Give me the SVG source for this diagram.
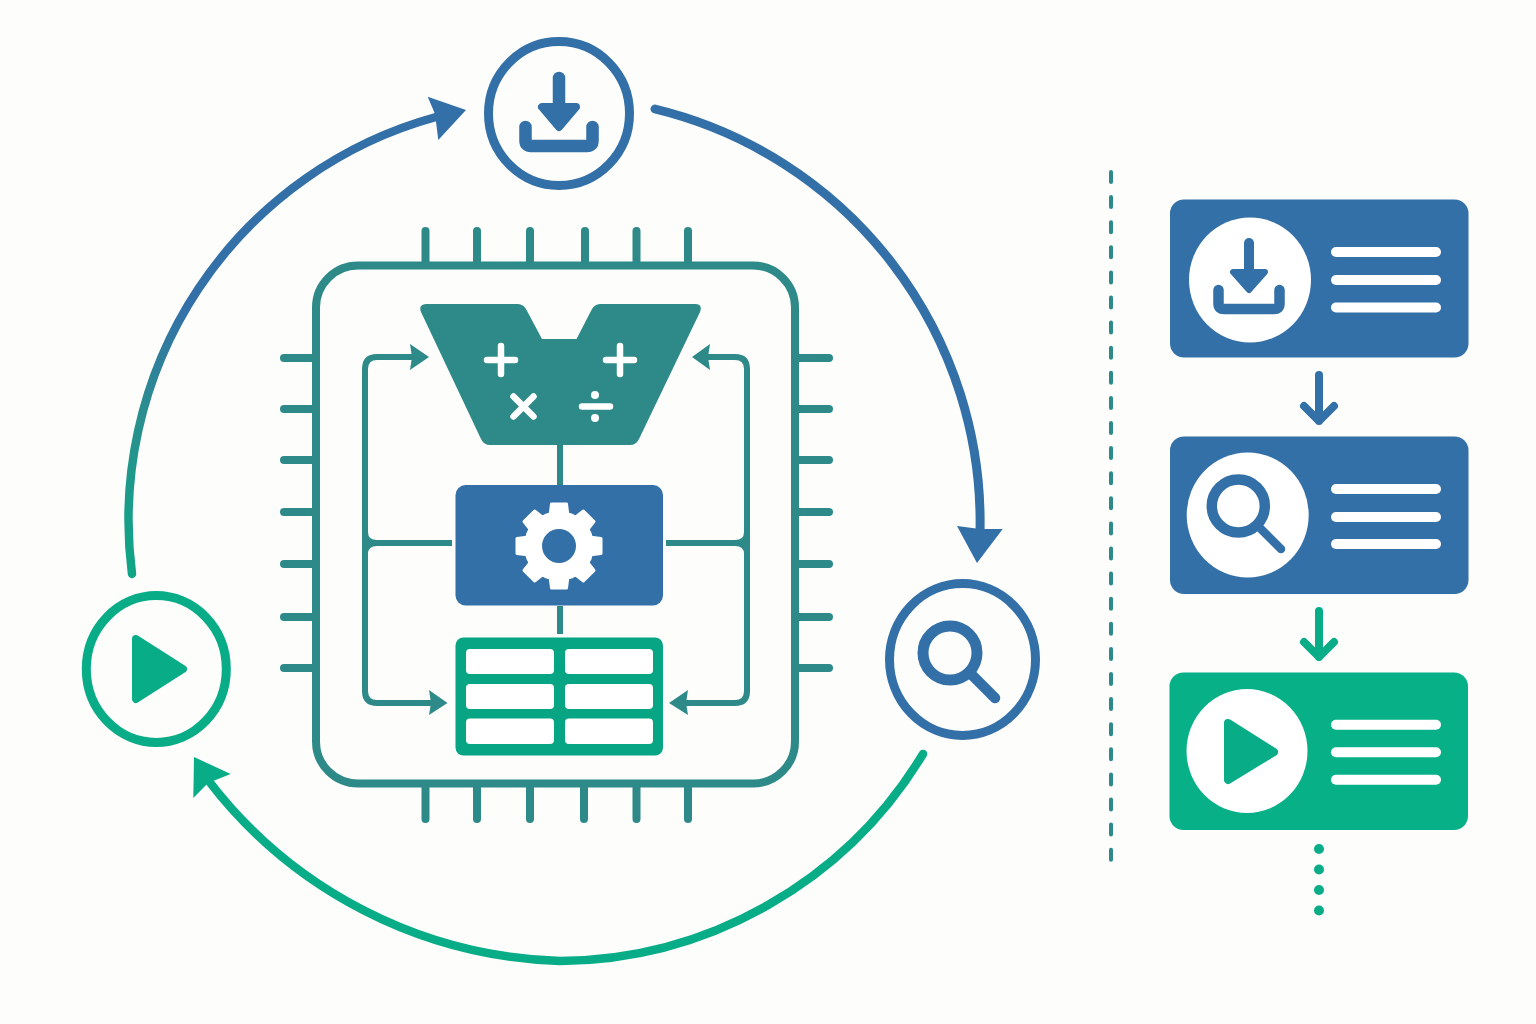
<svg xmlns="http://www.w3.org/2000/svg" width="1536" height="1024" viewBox="0 0 1536 1024">
<style>
.b{stroke:#3470a8}.t{stroke:#2d8a88}.g{stroke:#08ad87}.w{stroke:#fff}
.ln{fill:none;stroke-linecap:round;stroke-linejoin:round}
.fb{fill:#3470a8}.ft{fill:#2d8a88}.fg{fill:#08ad87}.fw{fill:#fff}
.ring{fill:none;stroke-width:9}
.pin{fill:none;stroke:#2d8a88;stroke-width:8;stroke-linecap:round}
.bus{fill:none;stroke:#2d8a88;stroke-width:6}
.row{fill:#fff}
</style>
<defs>
<linearGradient id="arcL" gradientUnits="userSpaceOnUse" x1="132" y1="574" x2="300" y2="180">
<stop offset="0" stop-color="#0fa586"/><stop offset="0.35" stop-color="#2a8f8e"/><stop offset="0.62" stop-color="#3470a8"/><stop offset="1" stop-color="#3470a8"/>
</linearGradient>
<polygon id="tooth" points="-9,-30 -7.5,-42 7.5,-42 9,-30" fill="#fff" stroke="#fff" stroke-width="3" stroke-linejoin="round"/>
</defs>
<rect width="1536" height="1024" fill="#fdfdfb"/>

<g id="connectors">
<path class="ln" stroke="url(#arcL)" stroke-width="8.500" d="M132 574 A418 418 0 0 1 436 117"/>
<polygon class="fb" points="466,110 427.7,96.7 435,114 438.3,140"/>
<path class="ln b" stroke-width="9" d="M655 109 A425 425 0 0 1 980 532"/>
<polygon class="fb" points="957,526 980,529 1002.7,529 977,563"/>
<path class="ln g" stroke-width="8.500" d="M923 754 A428 428 0 0 1 560 961 A460 460 0 0 1 208 780"/>
<polygon class="fg" points="194,757 230.7,774 208,783 193.3,798"/>

<path class="bus" d="M560 445V485M560 606V634"/>
<path class="bus" d="M412 357H377Q365 357 365 369V691Q365 703 377 703H432"/>
<path class="bus" d="M365 532Q365 543 377 543H452M365 554Q365 543 377 543"/>
<path class="bus" d="M708 357H735Q747 357 747 369V691Q747 703 735 703H686"/>
<path class="bus" d="M747 532Q747 543 735 543H666M747 554Q747 543 735 543"/>
<polygon class="ft" points="429,357 410,344 412,357 410,370"/>
<polygon class="ft" points="692,357 710,344 708,357 710,370"/>
<polygon class="ft" points="447.5,703 429,690 431,703 429,715"/>
<polygon class="ft" points="669,703 688,690 686,703 688,715"/>

<path class="ln b" stroke-width="8" d="M1319 375V421M1304 406L1319 421L1334 406"/>
<path class="ln g" stroke-width="8" d="M1319 611V657M1304 642L1319 657L1334 642"/>
<line x1="1111" y1="172" x2="1111" y2="861" class="t" stroke-width="4" stroke-linecap="round" stroke-dasharray="10 15.1"/>
<g class="fg"><circle cx="1319" cy="849" r="5"/><circle cx="1319" cy="869.500" r="5"/><circle cx="1319" cy="890" r="5"/><circle cx="1319" cy="910.500" r="5"/></g>
</g>

<g id="node-download">
<ellipse class="ring b" cx="559" cy="113.500" rx="70.500" ry="72"/>
<path class="ln b" stroke-width="12.500" d="M559 78V108"/>
<polygon class="fb b" stroke-width="8" stroke-linejoin="round" points="542,107 576,107 559,127"/>
<path class="ln b" stroke-width="12.500" d="M525.500 127V141Q525.500 146 531 146H587Q592.500 146 592.500 141V127"/>
</g>

<g id="node-search">
<ellipse class="ring b" cx="962.500" cy="659.500" rx="73" ry="76"/>
<circle cx="950" cy="653" r="27" fill="none" class="b" stroke-width="11"/>
<path class="ln b" stroke-width="10.500" d="M972 675L995 698"/>
</g>

<g id="node-execute">
<ellipse class="ring g" cx="156.300" cy="669" rx="70" ry="73.500"/>
<polygon class="fg g" stroke-width="8" stroke-linejoin="round" points="136,639 183,669 136,699"/>
</g>

<g id="node-chip">
<rect x="316" y="265.500" width="479" height="518" rx="42" fill="none" class="t" stroke-width="8"/>
<path class="pin" d="M425.500 231V262M477 231V262M530 231V262M585 231V262M636.500 231V262M688 231V262"/>
<path class="pin" d="M425.500 787V819M477 787V819M530 787V819M584 787V819M636.500 787V819M688 787V819"/>
<path class="pin" d="M284 358H312M284 409H312M284 460H312M284 512H312M284 564H312M284 617H312M284 668H312"/>
<path class="pin" d="M799 358H829M799 409H829M799 460H829M799 512H829M799 564H829M799 617H829M799 668H829"/>
</g>

<g id="node-alu">
<path class="ft" d="M427 304H517Q523 304 526 309L542 339H576.500L592 309Q595 304 601 304H695Q703 304 700 312L639 439Q636 445 630 445H490Q484 445 481 439L421 312Q418 304 427 304Z"/>
<path class="ln w" stroke-width="6.500" d="M487 360H515M501 346V374M606 360H634M620 346V374M513.500 396.500L533.500 416.500M533.500 396.500L513.500 416.500M582 406.500H610"/>
<circle cx="595" cy="395" r="4" class="fw"/><circle cx="595" cy="418" r="4" class="fw"/>
</g>

<g id="node-control">
<rect x="455.500" y="485" width="207.500" height="120.500" rx="10" class="fb"/>
<g transform="translate(559 546)">
<use href="#tooth"/><use href="#tooth" transform="rotate(45)"/><use href="#tooth" transform="rotate(90)"/><use href="#tooth" transform="rotate(135)"/><use href="#tooth" transform="rotate(180)"/><use href="#tooth" transform="rotate(225)"/><use href="#tooth" transform="rotate(270)"/><use href="#tooth" transform="rotate(315)"/>
<circle r="35" class="fw"/>
<circle r="17" class="fb"/>
</g>
</g>

<g id="node-registers">
<rect x="455.500" y="637.500" width="207.500" height="118" rx="8" style="fill:#07a584"/>
<rect class="row" x="466" y="649" width="88" height="25" rx="4"/><rect class="row" x="565" y="649" width="88" height="25" rx="4"/>
<rect class="row" x="466" y="684" width="88" height="25" rx="4"/><rect class="row" x="565" y="684" width="88" height="25" rx="4"/>
<rect class="row" x="466" y="718.500" width="88" height="25.500" rx="4"/><rect class="row" x="565" y="718.500" width="88" height="25.500" rx="4"/>
</g>

<g id="card-download">
<rect x="1170" y="199.500" width="298.500" height="158" rx="14" class="fb"/>
<ellipse cx="1250" cy="280" rx="61" ry="62.500" class="fw"/>
<path class="ln b" stroke-width="10" d="M1249 243V270"/>
<polygon class="fb b" stroke-width="6" stroke-linejoin="round" points="1233,272 1265,272 1249,290"/>
<path class="ln b" stroke-width="10.500" d="M1218.500 290V304Q1218.500 309 1224 309H1274Q1279.500 309 1279.500 304V290"/>
<rect x="1331" y="247" width="110" height="10" rx="5" class="fw"/><rect x="1331" y="275" width="110" height="10" rx="5" class="fw"/><rect x="1331" y="302.500" width="110" height="10" rx="5" class="fw"/>
</g>

<g id="card-search">
<rect x="1170" y="436.500" width="298.500" height="157.500" rx="14" class="fb"/>
<ellipse cx="1247.700" cy="515" rx="61" ry="62.500" class="fw"/>
<circle cx="1238.300" cy="506" r="26.500" fill="none" class="b" stroke-width="10.500"/>
<path class="ln b" stroke-width="8.500" d="M1259 527L1281 549"/>
<rect x="1331" y="484" width="110" height="10" rx="5" class="fw"/><rect x="1331" y="512" width="110" height="10" rx="5" class="fw"/><rect x="1331" y="539" width="110" height="10" rx="5" class="fw"/>
</g>

<g id="card-execute">
<rect x="1169.500" y="672.500" width="298.500" height="157.500" rx="14" fill="#08b088"/>
<ellipse cx="1247" cy="751" rx="60.500" ry="62" class="fw"/>
<polygon class="fg g" stroke-width="8" stroke-linejoin="round" points="1228,723 1274,752 1228,780"/>
<rect x="1331" y="719.700" width="110" height="10" rx="5" class="fw"/><rect x="1331" y="747.300" width="110" height="10" rx="5" class="fw"/><rect x="1331" y="774.700" width="110" height="10" rx="5" class="fw"/>
</g>
</svg>
